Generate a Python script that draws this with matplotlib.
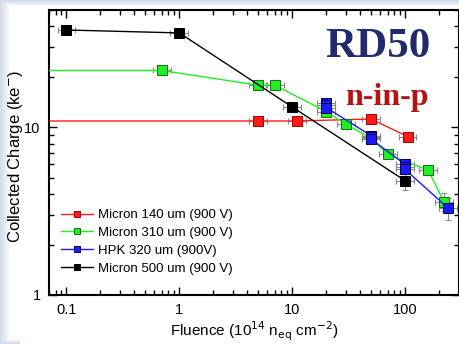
import numpy as np
import matplotlib
matplotlib.use("Agg")
import matplotlib.pyplot as plt

plt.rcParams['font.family'] = ['Liberation Sans', 'DejaVu Sans']

# Fluence in 1e14 neq/cm^2, collected charge in ke-
red_x = [0.01, 5, 11, 50, 105]
red_y = [10.9, 10.9, 10.9, 11.2, 8.8]
red_yerr = [0.0, 0.2, 0.2, 0.3, 0.4]

green_x = [0.01, 0.7, 5, 7, 20, 30, 50, 70, 160, 220]
green_y = [21.8, 21.8, 17.8, 17.8, 12.4, 10.4, 8.6, 6.9, 5.55, 3.6]
green_yerr = [0.0, 0.4, 0.4, 0.4, 0.3, 0.3, 0.3, 0.3, 0.35, 0.45]

blue_x = [20, 20, 20, 50, 50, 50, 100, 100, 100, 240]
blue_y = [13.9, 13.5, 13.1, 8.9, 8.7, 8.5, 6.0, 5.8, 5.6, 3.3]
blue_yerr = [0.3, 0.3, 0.3, 0.3, 0.3, 0.3, 0.3, 0.3, 0.3, 0.5]

black_x = [0.1, 1, 10, 100]
black_y = [38.0, 36.5, 13.2, 4.8]
black_yerr = [0.5, 0.5, 0.3, 0.6]

fluence_rel_err = 0.2

series = [
    ("Micron 140 um (900 V)", red_x, red_y, red_yerr, "#ff1a1a", "#a00000"),
    ("Micron 310 um (900 V)", green_x, green_y, green_yerr, "#22ee22", "#107010"),
    ("HPK 320 um (900V)", blue_x, blue_y, blue_yerr, "#1a1aff", "#000050"),
    ("Micron 500 um (900 V)", black_x, black_y, black_yerr, "#000000", "#000000"),
]

fig = plt.figure(figsize=(4.59, 3.44), dpi=100, facecolor="white")

# soft bluish frame along the left and top edges of the slide
bg = fig.add_axes([0, 0, 1, 1], zorder=-10)
H, W = 344, 459
yy, xx = np.mgrid[0:H, 0:W]
a = np.clip(1 - xx / 11.0, 0, 1) ** 1.2
a = np.maximum(a, np.clip(1 - yy / 6.0, 0, 1))
a = np.maximum(a, np.clip(1 - (H - 1 - yy) / 5.0, 0, 1) * (xx < 20))
img = np.ones((H, W, 4))
img[..., 0] = 0.80
img[..., 1] = 0.84
img[..., 2] = 0.90
img[..., 3] = a * 0.9
bg.imshow(img, aspect="auto", interpolation="bilinear")
bg.axis("off")

ax = fig.add_axes([49 / 459, 1 - 295 / 344, 410 / 459, 285 / 344])
ax.set_facecolor("white")

for label, x, y, yerr, col, edge in series:
    x = np.asarray(x, float)
    ax.errorbar(x, y, xerr=[x * fluence_rel_err / (1 + fluence_rel_err), x * fluence_rel_err],
                yerr=yerr, fmt="none", ecolor="#8a8a8a", elinewidth=0.8, capsize=2.5,
                capthick=0.8, zorder=2)
    ax.plot(x, y, "-", color=col, lw=1.0, marker="s", markersize=6.5,
            markerfacecolor=col, markeredgecolor=edge, markeredgewidth=0.7,
            label=label, zorder=3)

ax.set_xscale("log")
ax.set_yscale("log")
ax.set_xlim(0.07, 300)
ax.set_ylim(1, 50)

ax.set_xticks([0.1, 1, 10, 100])
ax.set_xticklabels(["0.1", "1", "10", "100"])
ax.set_yticks([1, 10])
ax.set_yticklabels(["1", "10"])
ax.tick_params(which="both", direction="in", top=True, right=True, labelsize=10.5,
               width=1.0, pad=6)
ax.tick_params(which="major", length=6)
ax.tick_params(which="minor", length=3.5)
for s in ax.spines.values():
    s.set_linewidth(1.5)

ax.set_xlabel(r"Fluence (10$^{14}$ n$_{\mathrm{eq}}$ cm$^{-2}$)", fontsize=11, labelpad=2)
ax.set_ylabel(r"Collected Charge (ke$^{-}$)", fontsize=12)
ax.yaxis.set_label_coords(-0.058, 0.485)

leg = ax.legend(loc="lower left", bbox_to_anchor=(0.0, 0.03), frameon=False,
                fontsize=9.5, handlelength=2.4, handletextpad=0.4, labelspacing=0.42,
                markerscale=0.75)

fig.text(378 / 459, 1 - 47 / 344, "RD50", fontsize=31, fontweight="bold",
         family="Liberation Serif", color="#222a6e", ha="center", va="center")
fig.text(387 / 459, 1 - 97 / 344, "n-in-p", fontsize=23, fontweight="bold",
         family="Liberation Serif", color="#b51212", ha="center", va="center")

fig.savefig("out.png", dpi=100, facecolor=fig.get_facecolor())
